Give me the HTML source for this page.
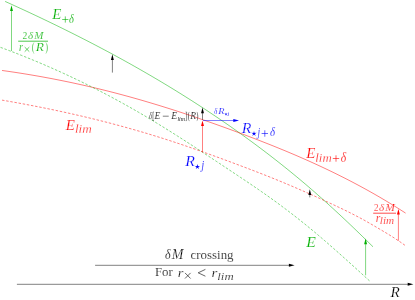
<!DOCTYPE html><html><head><meta charset="utf-8"><title>Energy crossing diagram</title><style>html,body{margin:0;padding:0;background:#fff;overflow:hidden;}svg{display:block;will-change:transform;}text{font-family:"Liberation Serif",serif;stroke:#fff;}.i{font-style:italic;}</style></head><body>
<svg width="415" height="300" viewBox="0 0 415 300">
<rect width="415" height="300" fill="#fff"/>
<path d="M5.10 1.43 L8.10 2.78 L11.10 4.14 L14.10 5.51 L17.10 6.88 L20.10 8.25 L23.10 9.64 L26.10 11.03 L29.10 12.42 L32.10 13.82 L35.10 15.23 L38.10 16.65 L41.10 18.07 L44.10 19.50 L47.10 20.93 L50.10 22.38 L53.10 23.83 L56.10 25.28 L59.10 26.75 L62.10 28.22 L65.10 29.70 L68.10 31.19 L71.10 32.68 L74.10 34.19 L77.10 35.70 L80.10 37.22 L83.10 38.75 L86.10 40.28 L89.10 41.83 L92.10 43.38 L95.10 44.94 L98.10 46.52 L101.10 48.10 L104.10 49.69 L107.10 51.28 L110.10 52.89 L113.10 54.51 L116.10 56.14 L119.10 57.78 L122.10 59.42 L125.10 61.08 L128.10 62.75 L131.10 64.42 L134.10 66.11 L137.10 67.81 L140.10 69.52 L143.10 71.24 L146.10 72.97 L149.10 74.71 L152.10 76.46 L155.10 78.22 L158.10 79.99 L161.10 81.78 L164.10 83.58 L167.10 85.38 L170.10 87.20 L173.10 89.04 L176.10 90.88 L179.10 92.74 L182.10 94.60 L185.10 96.49 L188.10 98.38 L191.10 100.28 L194.10 102.20 L197.10 104.14 L200.10 106.08 L203.10 108.04 L206.10 110.01 L209.10 112.00 L212.10 114.00 L215.10 116.01 L218.10 118.04 L221.10 120.08 L224.10 122.13 L227.10 124.20 L230.10 126.29 L233.10 128.39 L236.10 130.50 L239.10 132.63 L242.10 134.78 L245.10 136.94 L248.10 139.11 L251.10 141.31 L254.10 143.51 L257.10 145.74 L260.10 147.98 L263.10 150.24 L266.10 152.52 L269.10 154.82 L272.10 157.13 L275.10 159.47 L278.10 161.82 L281.10 164.19 L284.10 166.58 L287.10 168.99 L290.10 171.43 L293.10 173.88 L296.10 176.35 L299.10 178.84 L302.10 181.36 L305.10 183.89 L308.10 186.45 L311.10 189.03 L314.10 191.63 L317.10 194.26 L320.10 196.91 L323.10 199.58 L326.10 202.27 L329.10 204.98 L332.10 207.71 L335.10 210.47 L338.10 213.24 L341.10 216.03 L344.10 218.84 L347.10 221.67 L350.10 224.52 L353.10 227.38 L356.10 230.27 L359.10 233.16 L362.10 236.08 L365.10 239.00 L368.10 241.95 L371.10 244.91 L373.00 246.79" fill="none" stroke="#00b000" stroke-width="0.5"/>
<path d="M2.00 70.46 L5.00 70.88 L8.00 71.31 L11.00 71.75 L14.00 72.20 L17.00 72.65 L20.00 73.12 L23.00 73.60 L26.00 74.08 L29.00 74.58 L32.00 75.08 L35.00 75.60 L38.00 76.12 L41.00 76.65 L44.00 77.20 L47.00 77.75 L50.00 78.31 L53.00 78.89 L56.00 79.47 L59.00 80.06 L62.00 80.66 L65.00 81.27 L68.00 81.89 L71.00 82.52 L74.00 83.17 L77.00 83.82 L80.00 84.48 L83.00 85.15 L86.00 85.83 L89.00 86.52 L92.00 87.22 L95.00 87.93 L98.00 88.65 L101.00 89.38 L104.00 90.12 L107.00 90.87 L110.00 91.63 L113.00 92.40 L116.00 93.18 L119.00 93.97 L122.00 94.77 L125.00 95.58 L128.00 96.40 L131.00 97.23 L134.00 98.07 L137.00 98.92 L140.00 99.77 L143.00 100.64 L146.00 101.52 L149.00 102.41 L152.00 103.30 L155.00 104.21 L158.00 105.12 L161.00 106.04 L164.00 106.97 L167.00 107.91 L170.00 108.86 L173.00 109.81 L176.00 110.78 L179.00 111.75 L182.00 112.73 L185.00 113.72 L188.00 114.72 L191.00 115.72 L194.00 116.73 L197.00 117.75 L200.00 118.78 L203.00 119.81 L206.00 120.85 L209.00 121.90 L212.00 122.96 L215.00 124.02 L218.00 125.09 L221.00 126.16 L224.00 127.24 L227.00 128.33 L230.00 129.43 L233.00 130.53 L236.00 131.64 L239.00 132.75 L242.00 133.87 L245.00 135.00 L248.00 136.13 L251.00 137.27 L254.00 138.41 L257.00 139.57 L260.00 140.73 L263.00 141.90 L266.00 143.08 L269.00 144.26 L272.00 145.46 L275.00 146.67 L278.00 147.88 L281.00 149.11 L284.00 150.34 L287.00 151.59 L290.00 152.85 L293.00 154.12 L296.00 155.40 L299.00 156.69 L302.00 158.00 L305.00 159.32 L308.00 160.65 L311.00 161.99 L314.00 163.35 L317.00 164.72 L320.00 166.11 L323.00 167.51 L326.00 168.93 L329.00 170.36 L332.00 171.81 L335.00 173.27 L338.00 174.75 L341.00 176.25 L344.00 177.76 L347.00 179.29 L350.00 180.84 L353.00 182.40 L356.00 183.99 L359.00 185.59 L362.00 187.21 L365.00 188.85 L368.00 190.51 L371.00 192.19 L374.00 193.89 L377.00 195.61 L380.00 197.35 L383.00 199.12 L386.00 200.90 L389.00 202.71 L392.00 204.54 L395.00 206.39 L398.00 208.26 L401.00 210.16 L404.00 212.08 L405.60 213.11" fill="none" stroke="#ff0000" stroke-width="0.5"/>
<path d="M0.50 47.36 L3.50 48.47 L6.50 49.59 L9.50 50.72 L12.50 51.87 L15.50 53.03 L18.50 54.20 L21.50 55.39 L24.50 56.59 L27.50 57.80 L30.50 59.02 L33.50 60.26 L36.50 61.50 L39.50 62.77 L42.50 64.04 L45.50 65.33 L48.50 66.63 L51.50 67.95 L54.50 69.28 L57.50 70.62 L60.50 71.98 L63.50 73.35 L66.50 74.73 L69.50 76.13 L72.50 77.54 L75.50 78.96 L78.50 80.40 L81.50 81.85 L84.50 83.32 L87.50 84.80 L90.50 86.30 L93.50 87.81 L96.50 89.33 L99.50 90.87 L102.50 92.42 L105.50 93.99 L108.50 95.57 L111.50 97.17 L114.50 98.78 L117.50 100.41 L120.50 102.05 L123.50 103.71 L126.50 105.38 L129.50 107.07 L132.50 108.77 L135.50 110.49 L138.50 112.22 L141.50 113.97 L144.50 115.73 L147.50 117.51 L150.50 119.31 L153.50 121.11 L156.50 122.94 L159.50 124.77 L162.50 126.62 L165.50 128.48 L168.50 130.35 L171.50 132.23 L174.50 134.12 L177.50 136.02 L180.50 137.94 L183.50 139.86 L186.50 141.79 L189.50 143.73 L192.50 145.67 L195.50 147.62 L198.50 149.58 L201.50 151.55 L204.50 153.52 L207.50 155.49 L210.50 157.47 L213.50 159.45 L216.50 161.44 L219.50 163.43 L222.50 165.42 L225.50 167.41 L228.50 169.41 L231.50 171.40 L234.50 173.40 L237.50 175.39 L240.50 177.39 L243.50 179.39 L246.50 181.40 L249.50 183.42 L252.50 185.45 L255.50 187.49 L258.50 189.55 L261.50 191.63 L264.50 193.73 L267.50 195.84 L270.50 197.98 L273.50 200.14 L276.50 202.32 L279.50 204.52 L282.50 206.75 L285.50 209.00 L288.50 211.27 L291.50 213.57 L294.50 215.89 L297.50 218.23 L300.50 220.60 L303.50 223.00 L306.50 225.43 L309.50 227.88 L312.50 230.36 L315.50 232.87 L318.50 235.40 L321.50 237.95 L324.50 240.52 L327.50 243.12 L330.50 245.74 L333.50 248.37 L336.50 251.02 L339.50 253.68 L342.50 256.36 L345.50 259.05 L348.50 261.75 L351.50 264.46 L354.50 267.17 L357.50 269.89 L360.50 272.62 L363.50 275.35 L366.50 278.09 L369.50 280.82" fill="none" stroke="#00b000" stroke-width="0.5" stroke-dasharray="2.5 1.7"/>
<path d="M2.00 100.12 L5.00 100.64 L8.00 101.16 L11.00 101.69 L14.00 102.23 L17.00 102.77 L20.00 103.32 L23.00 103.87 L26.00 104.43 L29.00 105.00 L32.00 105.58 L35.00 106.16 L38.00 106.75 L41.00 107.34 L44.00 107.94 L47.00 108.55 L50.00 109.17 L53.00 109.79 L56.00 110.42 L59.00 111.06 L62.00 111.71 L65.00 112.36 L68.00 113.02 L71.00 113.69 L74.00 114.37 L77.00 115.06 L80.00 115.75 L83.00 116.45 L86.00 117.16 L89.00 117.88 L92.00 118.60 L95.00 119.34 L98.00 120.08 L101.00 120.83 L104.00 121.60 L107.00 122.36 L110.00 123.14 L113.00 123.93 L116.00 124.73 L119.00 125.53 L122.00 126.35 L125.00 127.17 L128.00 128.00 L131.00 128.85 L134.00 129.70 L137.00 130.56 L140.00 131.43 L143.00 132.31 L146.00 133.20 L149.00 134.11 L152.00 135.02 L155.00 135.94 L158.00 136.87 L161.00 137.81 L164.00 138.76 L167.00 139.73 L170.00 140.70 L173.00 141.68 L176.00 142.67 L179.00 143.67 L182.00 144.68 L185.00 145.70 L188.00 146.72 L191.00 147.76 L194.00 148.80 L197.00 149.85 L200.00 150.90 L203.00 151.97 L206.00 153.03 L209.00 154.11 L212.00 155.19 L215.00 156.28 L218.00 157.37 L221.00 158.47 L224.00 159.57 L227.00 160.68 L230.00 161.79 L233.00 162.91 L236.00 164.03 L239.00 165.16 L242.00 166.28 L245.00 167.41 L248.00 168.55 L251.00 169.69 L254.00 170.84 L257.00 172.00 L260.00 173.16 L263.00 174.33 L266.00 175.51 L269.00 176.71 L272.00 177.91 L275.00 179.12 L278.00 180.35 L281.00 181.59 L284.00 182.83 L287.00 184.09 L290.00 185.36 L293.00 186.63 L296.00 187.92 L299.00 189.22 L302.00 190.53 L305.00 191.84 L308.00 193.17 L311.00 194.50 L314.00 195.85 L317.00 197.20 L320.00 198.56 L323.00 199.93 L326.00 201.31 L329.00 202.70 L332.00 204.09 L335.00 205.49 L338.00 206.91 L341.00 208.34 L344.00 209.78 L347.00 211.24 L350.00 212.73 L353.00 214.25 L356.00 215.79 L359.00 217.36 L362.00 218.98 L365.00 220.63 L368.00 222.32 L371.00 224.05 L374.00 225.80 L377.00 227.55 L380.00 229.31 L383.00 231.08 L386.00 232.87 L389.00 234.69 L392.00 236.56 L395.00 238.47 L398.00 240.45 L401.00 242.49 L404.00 244.61 L405.60 245.78" fill="none" stroke="#ff0000" stroke-width="0.5" stroke-dasharray="2.5 1.7"/>
<line x1="11.5" y1="51" x2="11.50" y2="9.90" stroke="#00b000" stroke-width="0.5"/><polygon points="11.50,5.20 12.95,10.90 10.05,10.90" fill="#00b000"/>
<line x1="112.4" y1="72.6" x2="112.40" y2="58.90" stroke="#000000" stroke-width="0.5"/><polygon points="112.40,54.20 113.85,59.90 110.95,59.90" fill="#000000"/>
<line x1="202.5" y1="119.8" x2="202.50" y2="112.30" stroke="#000000" stroke-width="0.5"/><polygon points="202.50,107.60 203.95,113.30 201.05,113.30" fill="#000000"/>
<line x1="202.5" y1="152.3" x2="202.50" y2="125.10" stroke="#ff0000" stroke-width="0.5"/><polygon points="202.50,120.40 203.95,126.10 201.05,126.10" fill="#ff0000"/>
<line x1="203" y1="120.5" x2="234.30" y2="120.50" stroke="#0000ff" stroke-width="0.5"/><polygon points="239.00,120.50 233.30,121.95 233.30,119.05" fill="#0000ff"/>
<line x1="309.8" y1="197.4" x2="309.80" y2="194.00" stroke="#000000" stroke-width="0.5"/><polygon points="309.80,189.30 311.25,195.00 308.35,195.00" fill="#000000"/>
<line x1="398.4" y1="240.8" x2="398.40" y2="213.60" stroke="#ff0000" stroke-width="0.5"/><polygon points="398.40,208.90 399.85,214.60 396.95,214.60" fill="#ff0000"/>
<line x1="365.6" y1="275.3" x2="365.60" y2="243.30" stroke="#00b000" stroke-width="0.5"/><polygon points="365.60,238.60 367.05,244.30 364.15,244.30" fill="#00b000"/>
<line x1="16.9" y1="284.3" x2="408.70" y2="284.30" stroke="#000000" stroke-width="0.5"/><polygon points="413.40,284.30 407.70,285.75 407.70,282.85" fill="#000000"/>
<line x1="95.1" y1="265.3" x2="289.90" y2="265.30" stroke="#000000" stroke-width="0.5"/><polygon points="294.60,265.30 288.90,266.75 288.90,263.85" fill="#000000"/>
<text transform="translate(52.29,18.70) scale(1.041,1)" font-size="14.35" fill="#00b000" class="i" stroke-width="0.220">E</text>
<path d="M62.20 19.50H68.40M65.30 16.40V22.60" stroke="#00b000" stroke-width="0.6" fill="none"/>
<text transform="translate(69.10,22.77) scale(0.822,1)" font-size="12.68" fill="#00b000" class="i" stroke-width="0.220">δ</text>
<text transform="translate(22.60,38.90) scale(0.909,1)" font-size="10.57" fill="#00b000" stroke-width="0.220">2</text>
<text transform="translate(28.10,38.79) scale(1.032,1)" font-size="10.70" fill="#00b000" class="i" stroke-width="0.220">δ</text>
<text transform="translate(34.24,38.90) scale(1.027,1)" font-size="10.69" fill="#00b000" class="i" stroke-width="0.220">M</text>
<line x1="18.2" y1="41.2" x2="48" y2="41.2" stroke="#00b000" stroke-width="0.7"/>
<text transform="translate(19.10,50.50) scale(0.812,1)" font-size="12.55" fill="#00b000" class="i" stroke-width="0.220">r</text>
<path d="M24.70 47.10L29.30 51.70M24.70 51.70L29.30 47.10" stroke="#00b000" stroke-width="0.6" fill="none"/>
<text transform="translate(32.10,50.87) scale(0.607,1)" font-size="11.90" fill="#00b000" stroke-width="0.220">(</text>
<text transform="translate(35.70,50.90) scale(1.158,1)" font-size="11.60" fill="#00b000" class="i" stroke-width="0.220">R</text>
<text transform="translate(45.50,50.87) scale(0.607,1)" font-size="11.90" fill="#00b000" stroke-width="0.220">)</text>
<text transform="translate(65.79,129.70) scale(1.041,1)" font-size="14.35" fill="#ff0000" class="i" stroke-width="0.220">E</text>
<text transform="translate(74.90,132.90) scale(1.016,1)" font-size="12.95" fill="#ff0000" class="i" stroke-width="0.300">lim</text>
<text transform="translate(148.70,119.00) scale(0.698,1)" font-size="10.14" fill="#000000" class="i" stroke-width="0.220">δ</text>
<path d="M153.95 112.00H152.95V120.60H153.95" stroke="#000000" stroke-width="0.42" fill="none"/>
<text transform="translate(154.62,119.10) scale(1.018,1)" font-size="9.47" fill="#000000" class="i" stroke-width="0.186">E</text>
<path d="M162.80 116.20H168.70" stroke="#000000" stroke-width="0.5" fill="none"/>
<text transform="translate(171.22,119.10) scale(1.035,1)" font-size="9.47" fill="#000000" class="i" stroke-width="0.186">E</text>
<text transform="translate(177.40,120.80) scale(0.833,1)" font-size="7.05" fill="#000000" class="i" stroke-width="0.035">lim</text>
<path d="M185.60 112.00H186.60V120.60H185.60" stroke="#000000" stroke-width="0.42" fill="none"/>
<text transform="translate(187.70,118.75) scale(0.564,1)" font-size="10.14" fill="#000000" stroke-width="0.050">(</text>
<text transform="translate(190.17,119.10) scale(1.009,1)" font-size="9.47" fill="#000000" class="i" stroke-width="0.186">R</text>
<text transform="translate(196.60,118.75) scale(0.564,1)" font-size="10.14" fill="#000000" stroke-width="0.050">)</text>
<text transform="translate(214.10,114.01) scale(0.774,1)" font-size="9.15" fill="#0000ff" class="i" stroke-width="0.167">δ</text>
<text transform="translate(218.18,114.10) scale(1.114,1)" font-size="9.16" fill="#0000ff" class="i" stroke-width="0.167">R</text>
<polygon points="226.00,112.40 226.33,113.65 227.62,113.57 226.53,114.27 227.00,115.48 226.00,114.66 225.00,115.48 225.47,114.27 224.38,113.57 225.67,113.65" fill="#0000ff"/>
<text transform="translate(227.66,115.03) scale(1.033,1)" font-size="5.03" fill="#0000ff" class="i" stroke-width="0.000">j</text>
<text transform="translate(241.72,132.90) scale(1.061,1)" font-size="14.96" fill="#0000ff" class="i" stroke-width="0.220">R</text>
<polygon points="254.00,130.90 254.54,132.95 256.66,132.83 254.88,133.99 255.65,135.97 254.00,134.62 252.35,135.97 253.12,133.99 251.34,132.83 253.46,132.95" fill="#0000ff"/>
<text transform="translate(257.43,135.67) scale(0.841,1)" font-size="11.43" fill="#0000ff" class="i" stroke-width="0.220">j</text>
<path d="M261.60 133.50H268.00M264.80 130.30V136.70" stroke="#0000ff" stroke-width="0.6" fill="none"/>
<text transform="translate(269.90,136.37) scale(0.864,1)" font-size="12.54" fill="#0000ff" class="i" stroke-width="0.220">δ</text>
<text transform="translate(185.22,166.10) scale(1.061,1)" font-size="14.96" fill="#0000ff" class="i" stroke-width="0.220">R</text>
<polygon points="197.40,164.00 197.94,166.05 200.06,165.93 198.28,167.09 199.05,169.07 197.40,167.72 195.75,169.07 196.52,167.09 194.74,165.93 196.86,166.05" fill="#0000ff"/>
<text transform="translate(201.17,168.82) scale(0.936,1)" font-size="11.66" fill="#0000ff" class="i" stroke-width="0.220">j</text>
<text transform="translate(306.29,157.90) scale(1.019,1)" font-size="14.66" fill="#ff0000" class="i" stroke-width="0.220">E</text>
<text transform="translate(315.30,161.70) scale(0.980,1)" font-size="13.09" fill="#ff0000" class="i" stroke-width="0.300">lim</text>
<path d="M332.80 158.50H339.20M336.00 155.30V161.70" stroke="#ff0000" stroke-width="0.6" fill="none"/>
<text transform="translate(340.80,161.76) scale(0.854,1)" font-size="13.66" fill="#ff0000" class="i" stroke-width="0.220">δ</text>
<text transform="translate(373.90,211.10) scale(0.828,1)" font-size="10.87" fill="#ff0000" stroke-width="0.220">2</text>
<text transform="translate(379.10,210.99) scale(1.005,1)" font-size="10.99" fill="#ff0000" class="i" stroke-width="0.220">δ</text>
<text transform="translate(385.24,211.10) scale(1.050,1)" font-size="10.99" fill="#ff0000" class="i" stroke-width="0.220">M</text>
<line x1="373.2" y1="213.2" x2="396" y2="213.2" stroke="#ff0000" stroke-width="0.7"/>
<text transform="translate(375.70,222.10) scale(0.966,1)" font-size="12.13" fill="#ff0000" class="i" stroke-width="0.220">r</text>
<text transform="translate(379.80,224.10) scale(1.111,1)" font-size="10.07" fill="#ff0000" class="i" stroke-width="0.220">lim</text>
<text transform="translate(306.30,246.90) scale(1.031,1)" font-size="15.27" fill="#00b000" class="i" stroke-width="0.220">E</text>
<text transform="translate(390.41,296.90) scale(1.039,1)" font-size="14.66" fill="#000000" class="i" stroke-width="0.220">R</text>
<text transform="translate(165.00,259.46) scale(0.849,1)" font-size="14.23" fill="#000000" class="i" stroke-width="0.220">δ</text>
<text transform="translate(171.78,259.30) scale(1.019,1)" font-size="13.74" fill="#000000" class="i" stroke-width="0.220">M</text>
<text transform="translate(190.50,259.30) scale(0.995,1)" font-size="13.00" fill="#000000" stroke-width="0.220">crossing</text>
<text transform="translate(154.90,276.30) scale(0.985,1)" font-size="13.00" fill="#000000" stroke-width="0.220">For</text>
<text transform="translate(177.70,276.50) scale(1.101,1)" font-size="13.19" fill="#000000" class="i" stroke-width="0.220">r</text>
<path d="M185.00 272.90L190.60 278.50M185.00 278.50L190.60 272.90" stroke="#000000" stroke-width="0.6" fill="none"/>
<path d="M205.40 269.40L198.20 272.80L205.40 276.20" stroke="#000000" stroke-width="0.6" fill="none"/>
<text transform="translate(211.60,276.50) scale(1.140,1)" font-size="13.19" fill="#000000" class="i" stroke-width="0.220">r</text>
<text transform="translate(217.30,279.80) scale(1.182,1)" font-size="10.79" fill="#000000" class="i" stroke-width="0.220">lim</text>
</svg></body></html>
